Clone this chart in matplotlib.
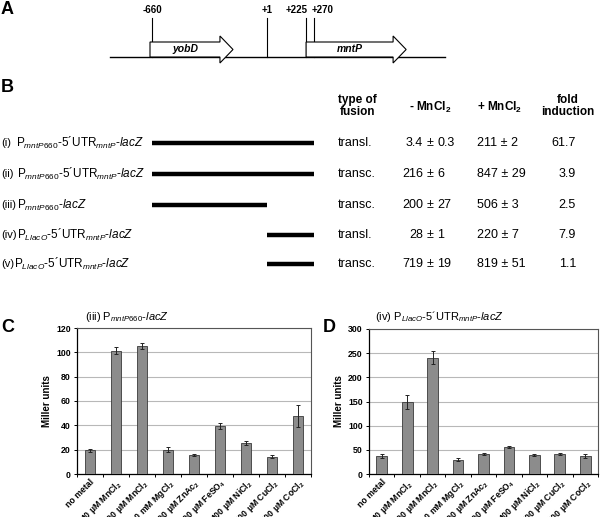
import matplotlib
matplotlib.use("Agg")
import matplotlib.pyplot as plt
from matplotlib.patches import Polygon
import numpy as np

plt.rcParams['font.family'] = ['Liberation Sans', 'DejaVu Sans']
plt.rcParams['mathtext.fontset'] = 'custom'
plt.rcParams['mathtext.rm'] = 'Liberation Sans'
plt.rcParams['mathtext.it'] = 'Liberation Sans:italic'
plt.rcParams['mathtext.bf'] = 'Liberation Sans:bold'

# ---- panel A: gene map (positions in bp relative to +1)
map_span = (-902, 1023)
site_pos = [-660, 1, 225, 270]
site_lab = ['-660', '+1', '+225', '+270']
site_lab_x = [-660, 1, 172, 322]   # label centres, +225/+270 are spread apart
genes = ['yobD', 'mntP']
gene_start = [-672, 225]
gene_end = [-195, 800]

# ---- panel B: constructs
row_num = ['(i)', '(ii)', '(iii)', '(iv)', '(v)']
row_name = [r'P$_{\mathit{mntP660}}$-5´UTR$_{\mathit{mntP}}$-$\mathit{lacZ}$',
            r'P$_{\mathit{mntP660}}$-5´UTR$_{\mathit{mntP}}$-$\mathit{lacZ}$',
            r'P$_{\mathit{mntP660}}$-$\mathit{lacZ}$',
            r'P$_{\mathit{LlacO}}$-5´UTR$_{\mathit{mntP}}$-$\mathit{lacZ}$',
            r'P$_{\mathit{LlacO}}$-5´UTR$_{\mathit{mntP}}$-$\mathit{lacZ}$']
span_start = [-660, -660, -660, 1, 1]
span_end = [270, 270, 1, 270, 270]
fusion = ['transl.', 'transc.', 'transc.', 'transl.', 'transc.']
minus_mean = ['3.4', '216', '200', '28', '719']
minus_err = ['0.3', '6', '27', '1', '19']
plus_mean = ['211', '847', '506', '220', '819']
plus_err = ['2', '29', '3', '7', '51']
fold = ['61.7', '3.9', '2.5', '7.9', '1.1']

# ---- panels C and D: metal screen
metals = ['no metal', r'40 µM MnCl$_\mathbf{2}$', r'400 µM MnCl$_\mathbf{2}$',
          r'100 mM MgCl$_\mathbf{2}$', r'400 µM ZnAc$_\mathbf{2}$',
          r'400 µM FeSO$_\mathbf{4}$', r'400 µM NiCl$_\mathbf{2}$',
          r'400 µM CuCl$_\mathbf{2}$', r'400 µM CoCl$_\mathbf{2}$']
c_vals = [19.5, 101.5, 105, 20, 15.6, 39.7, 25.3, 14.2, 47.4]
c_err = [1.2, 2.5, 2.5, 2.0, 1.0, 2.5, 1.8, 1.2, 9.0]
d_vals = [36.5, 149, 241, 30, 41, 55, 38.5, 42, 37.5]
d_err = [4, 15, 14, 4, 2, 2, 2, 2, 4]

W, H = 600, 517
fig = plt.figure(figsize=(W / 100, H / 100), dpi=100)

# overlay in pixel coordinates for letters and table text
ax0 = fig.add_axes([0, 0, 1, 1])
ax0.set_xlim(0, W)
ax0.set_ylim(H, 0)
ax0.axis('off')

for letter, (lx, ly) in zip('ABCD', [(1, 9), (1, 88), (1, 327), (323, 327)]):
    ax0.text(lx, ly, letter, fontsize=13, fontweight='bold', va='center', ha='left')

# panels A and B share one bp scale on x, y in pixels
axA = fig.add_axes([0, 0, 1, 1])
axA.set_xlim(-1534, 1914)
axA.set_ylim(H, 0)
axA.axis('off')
axA.plot(map_span, [57, 57], color='black', lw=1)
for p in site_pos:
    axA.plot([p, p], [18, 57], color='black', lw=0.8)
for lx, lab in zip(site_lab_x, site_lab):
    axA.text(lx, 10, lab, fontsize=7, fontweight='bold', ha='center', va='center')
head = 75
for g, s, e in zip(genes, gene_start, gene_end):
    verts = [(s, 42), (e - head, 42), (e - head, 36), (e, 49.5),
             (e - head, 63), (e - head, 57), (s, 57)]
    axA.add_patch(Polygon(verts, closed=True, facecolor='white',
                          edgecolor='black', lw=0.8, zorder=3))
    axA.text((s + e - head) / 2, 49.5, g, fontsize=7.5, fontweight='bold',
             fontstyle='italic', ha='center', va='center', zorder=4)

row_y = [143, 174, 205, 235, 264]
name_x = [16, 17, 17, 17, 14]
fs = 9
for i, y in enumerate(row_y):
    axA.plot([span_start[i], span_end[i]], [y, y], color='black', lw=3.2,
             solid_capstyle='butt')
    ax0.text(1, y, row_num[i], fontsize=8, ha='left', va='center')
    ax0.text(name_x[i], y, row_name[i], fontsize=8.5, ha='left', va='center')
    ax0.text(338, y, fusion[i], fontsize=fs, ha='left', va='center')
    ax0.text(423, y, minus_mean[i], fontsize=fs, ha='right', va='center')
    ax0.text(430, y, '±', fontsize=fs, ha='center', va='center')
    ax0.text(437, y, minus_err[i], fontsize=fs, ha='left', va='center')
    ax0.text(477, y, f'{plus_mean[i]} ± {plus_err[i]}', fontsize=fs, ha='left', va='center')
    ax0.text(576, y, fold[i], fontsize=fs, ha='right', va='center')

ax0.text(357, 106, 'type of\nfusion', fontsize=8.5, fontweight='bold', ha='center',
         va='center', linespacing=0.95)
ax0.text(430, 107, r'- MnCl$_\mathbf{2}$', fontsize=8.5, fontweight='bold', ha='center', va='center')
ax0.text(500, 107, r'+ MnCl$_\mathbf{2}$', fontsize=8.5, fontweight='bold', ha='center', va='center')
ax0.text(568, 106, 'fold\ninduction', fontsize=8.5, fontweight='bold', ha='center',
         va='center', linespacing=0.95)

ax0.text(85, 317, r'(iii) P$_{\mathit{mntP660}}$-$\mathit{lacZ}$', fontsize=8, ha='left', va='center')
ax0.text(375, 317, r'(iv) P$_{\mathit{LlacO}}$-5´UTR$_{\mathit{mntP}}$-$\mathit{lacZ}$',
         fontsize=8, ha='left', va='center')


def bar_panel(ax, vals, errs, ymax, step):
    x = np.arange(len(metals))
    ax.bar(x, vals, width=0.42, color='#8c8c8c', edgecolor='#3a3a3a', linewidth=0.6,
           yerr=errs, error_kw=dict(ecolor='#222222', elinewidth=0.7, capsize=1.5,
                                    capthick=0.7), zorder=3)
    ax.set_xlim(-0.5, len(metals) - 0.5)
    ax.set_ylim(0, ymax)
    ax.set_yticks(np.arange(0, ymax + 1, step))
    ax.yaxis.grid(True, color='#b8b8b8', lw=0.8)
    ax.set_axisbelow(True)
    ax.set_xticks(x)
    ax.set_xticklabels(metals, rotation=45, ha='right', rotation_mode='anchor',
                       fontsize=6.3, fontweight='bold')
    ax.set_xticks(np.arange(-0.5, len(metals), 1), minor=True)
    ax.tick_params(axis='x', which='major', length=0, pad=2.5)
    ax.tick_params(axis='x', which='minor', length=2.5, width=0.7)
    ax.tick_params(axis='y', length=2.5, width=0.7, labelsize=6.3, pad=2)
    for lab in ax.get_yticklabels():
        lab.set_fontweight('bold')
    ax.set_ylabel('Miller units', fontsize=7, fontweight='bold', labelpad=3)
    for side in ['left', 'bottom']:
        ax.spines[side].set_color('black')
        ax.spines[side].set_linewidth(0.9)
    for side in ['top', 'right']:
        ax.spines[side].set_color('#555555')
        ax.spines[side].set_linewidth(0.8)


axC = fig.add_axes([77 / W, 1 - 474 / H, 234 / W, 146 / H])
bar_panel(axC, c_vals, c_err, 120, 20)
axD = fig.add_axes([369 / W, 1 - 474 / H, 229 / W, 145 / H])
bar_panel(axD, d_vals, d_err, 300, 50)

fig.savefig('out.png', dpi=100)
